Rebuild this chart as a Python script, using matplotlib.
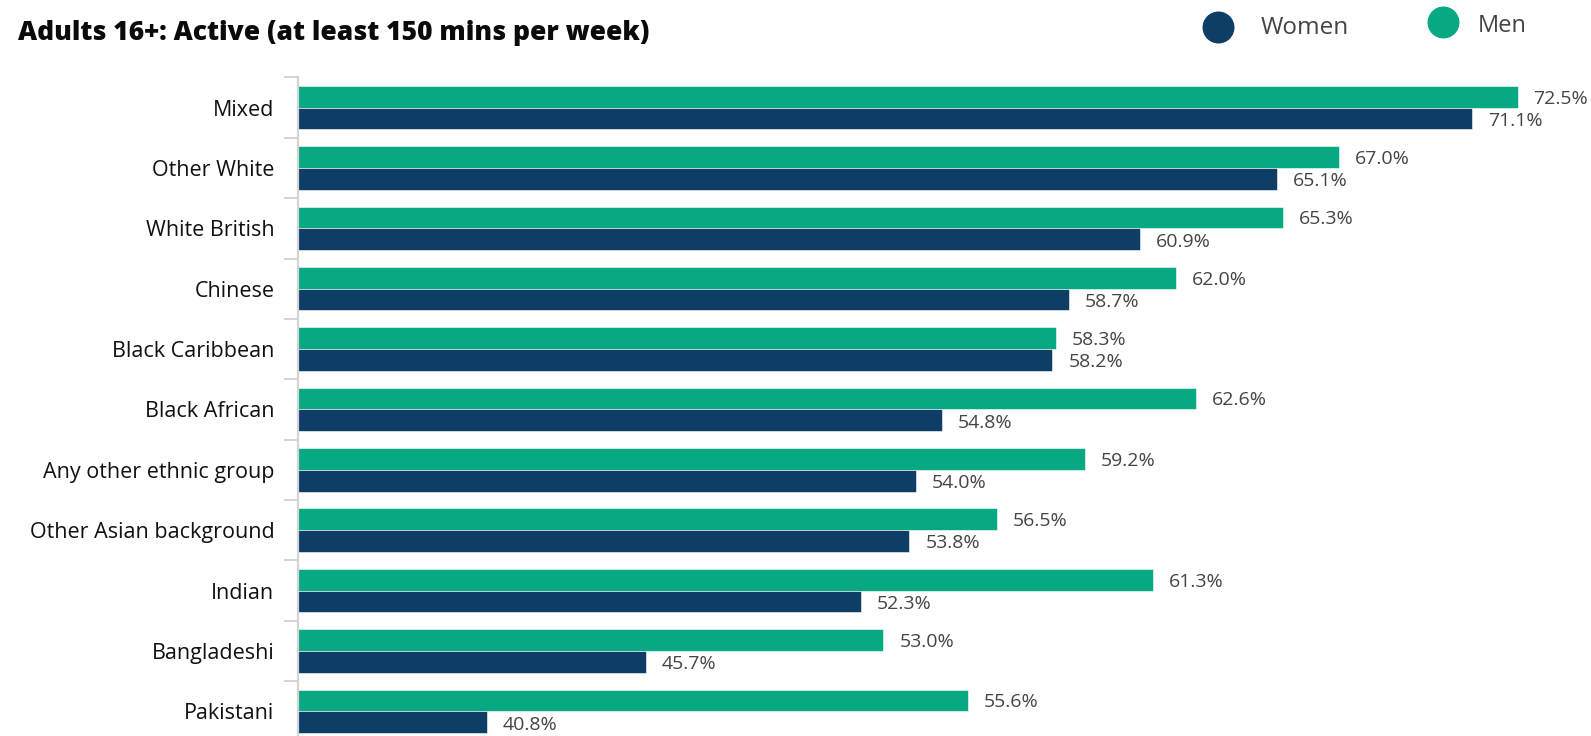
import matplotlib
matplotlib.use("Agg")
import matplotlib.pyplot as plt
from matplotlib.lines import Line2D
import numpy as np

categories = ["Mixed", "Other White", "White British", "Chinese", "Black Caribbean",
              "Black African", "Any other ethnic group", "Other Asian background",
              "Indian", "Bangladeshi", "Pakistani"]
women = [71.1, 65.1, 60.9, 58.7, 58.2, 54.8, 54.0, 53.8, 52.3, 45.7, 40.8]
men = [72.5, 67.0, 65.3, 62.0, 58.3, 62.6, 59.2, 56.5, 61.3, 53.0, 55.6]
title = "Adults 16+: Active (at least 150 mins per week)"

GREEN = "#07A882"
NAVY = "#0E3D66"
FONT = ["Open Sans", "DejaVu Sans"]

W, H = 1591, 736
fig = plt.figure(figsize=(W / 100, H / 100), dpi=100)
top = 1 - 77.4 / H
bottom = 1 - 741.5 / H
left = 298 / W
ax = fig.add_axes([left, bottom, 1 - left, top - bottom])

n = len(categories)
y = np.arange(n)
bh = 0.36
ax.barh(y - bh / 2, men, height=bh, left=0, color=GREEN, edgecolor="white", linewidth=0.4)
ax.barh(y + bh / 2, women, height=bh, left=0, color=NAVY, edgecolor="white", linewidth=0.4)

xmin = 35
xmax = 35 + (W - 298) / 32.52
ax.set_xlim(xmin, xmax)
ax.set_ylim(n - 0.5, -0.5)

for i in range(n):
    ax.annotate(f"{men[i]:.1f}%", (men[i], y[i] - bh / 2 + 0.03), xytext=(16, 0),
                textcoords="offset pixels",
                va="center", ha="left", fontsize=14, color="#444444", family=FONT)
    ax.annotate(f"{women[i]:.1f}%", (women[i], y[i] + bh / 2 + 0.04), xytext=(16, 0),
                textcoords="offset pixels",
                va="center", ha="left", fontsize=14, color="#444444", family=FONT)

for s in ["top", "right", "bottom"]:
    ax.spines[s].set_visible(False)
ax.spines["left"].set_color("#d4d4d4")
ax.spines["left"].set_linewidth(1.6)
ax.set_xticks([])
ax.set_yticks(y)
ax.set_yticklabels(categories, family=FONT, fontsize=15.5, color="#111111")
ax.tick_params(axis="y", which="major", length=0, pad=17)
ax.set_yticks(np.arange(-0.5, n + 0.5, 1), minor=True)
ax.tick_params(axis="y", which="minor", length=10, width=1.4, color="#d4d4d4")

fig.text(18 / W, 1 - 33 / H, title, fontsize=19, fontweight="heavy",
         color="#0a0a0a", va="center", ha="left", family=["Open Sans", "DejaVu Sans"])

# legend
fig.add_artist(Line2D([1218 / W], [1 - 27 / H], marker="o", markersize=22,
                      color=NAVY, linestyle="none", transform=fig.transFigure))
fig.text(1261 / W, 1 - 28 / H, "Women", fontsize=17.5, color="#444444",
         va="center", ha="left", family=FONT)
fig.add_artist(Line2D([1443 / W], [1 - 22 / H], marker="o", markersize=22,
                      color=GREEN, linestyle="none", transform=fig.transFigure))
fig.text(1478 / W, 1 - 26 / H, "Men", fontsize=17, color="#444444",
         va="center", ha="left", family=FONT)

fig.savefig("out.png", dpi=100)
